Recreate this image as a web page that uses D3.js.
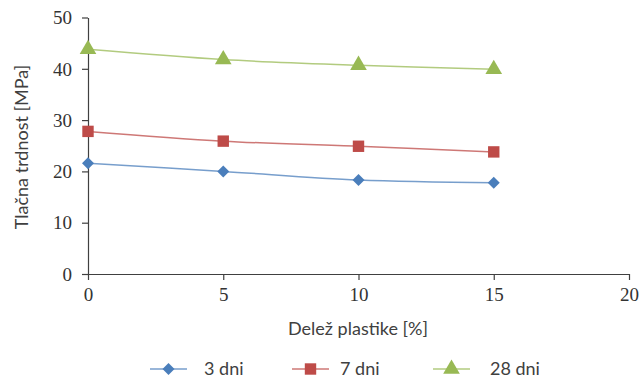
<!DOCTYPE html>
<html><head><meta charset="utf-8">
<script src="https://cdn.jsdelivr.net/npm/d3@7"></script>
<style>body{margin:0;background:#fff}svg{display:block}</style>
</head><body>
<script>
const xValues = [0, 5, 10, 15];
const series3 = [21.6, 20.0, 18.3, 17.8];
const series7 = [27.8, 25.9, 24.9, 23.8];
const series28 = [43.8, 41.8, 40.7, 39.9];
const seriesNames = ["3 dni", "7 dni", "28 dni"];
const xTicks = [0, 5, 10, 15, 20];
const yTicks = [0, 10, 20, 30, 40, 50];

const W = 641, H = 378;
const svg = d3.select("body").append("svg").attr("width", W).attr("height", H);
const x = d3.scaleLinear().domain([0, 20]).range([88, 629]);
const y = d3.scaleLinear().domain([0, 50]).range([274, 17.5]);

const axisColor = "#404040";
const sans = "Lato, 'Open Sans', sans-serif";
const gx = svg.append("g").attr("transform", "translate(0,274)")
  .call(d3.axisBottom(x).tickValues(xTicks).tickSize(6).tickSizeOuter(0).tickPadding(8));
const gy = svg.append("g").attr("transform", "translate(88,0)")
  .call(d3.axisLeft(y).tickValues(yTicks).tickSize(6).tickSizeOuter(0).tickPadding(10));
[gx, gy].forEach(g => {
  g.select(".domain").attr("stroke", axisColor).attr("stroke-width", 1.2);
  g.selectAll(".tick line").attr("stroke", axisColor).attr("stroke-width", 1.2);
  g.selectAll(".tick text").attr("fill", "#333").style("font-family", "'Liberation Serif', serif").style("font-size", "19px");
});
gy.selectAll(".tick text").attr("dy", "0.33em");

svg.append("text").attr("x", 358).attr("y", 335).attr("text-anchor", "middle")
  .attr("fill", "#404040").style("font-family", sans).style("font-size", "18px")
  .text("Delež plastike [%]");
svg.append("text").attr("transform", "translate(28,147) rotate(-90)").attr("text-anchor", "middle")
  .attr("fill", "#404040").style("font-family", sans).style("font-size", "18px")
  .text("Tlačna trdnost [MPa]");

const colors = ["#4a7ebb", "#be4b48", "#98b954"];
const allSeries = [series3, series7, series28];
const shapes = [d3.symbolSquare, d3.symbolSquare, d3.symbolTriangle];
const sizes = [72, 130, 120];
const rot = [45, 0, 0];
const line = d3.line().x((d, i) => x(xValues[i])).y(d => y(d)).curve(d3.curveCatmullRom.alpha(0.5));

allSeries.forEach((s, k) => {
  svg.append("path").datum(s).attr("d", line).attr("fill", "none")
    .attr("stroke", colors[k]).attr("stroke-opacity", 0.75).attr("stroke-width", 1.5);
});
allSeries.forEach((s, k) => {
  svg.selectAll(null).data(s).enter().append("path")
    .attr("d", d3.symbol().type(shapes[k]).size(sizes[k]))
    .attr("transform", (d, i) => `translate(${x(xValues[i])},${y(d)}) rotate(${rot[k]})`)
    .attr("fill", colors[k]);
});

// legend
const legX = [150, 292, 433];
const textX = [204, 340, 490];
seriesNames.forEach((n, k) => {
  const g = svg.append("g");
  g.append("line").attr("x1", legX[k]).attr("x2", legX[k] + 37).attr("y1", 369).attr("y2", 369)
    .attr("stroke", colors[k]).attr("stroke-opacity", 0.75).attr("stroke-width", 1.5);
  g.append("path").attr("d", d3.symbol().type(shapes[k]).size(sizes[k]))
    .attr("transform", `translate(${legX[k] + 18.5},369) rotate(${rot[k]})`)
    .attr("fill", colors[k]);
  g.append("text").attr("x", textX[k]).attr("y", 375).attr("fill", "#404040")
    .style("font-family", sans).style("font-size", "18px").text(n);
});
</script>
</body></html>
